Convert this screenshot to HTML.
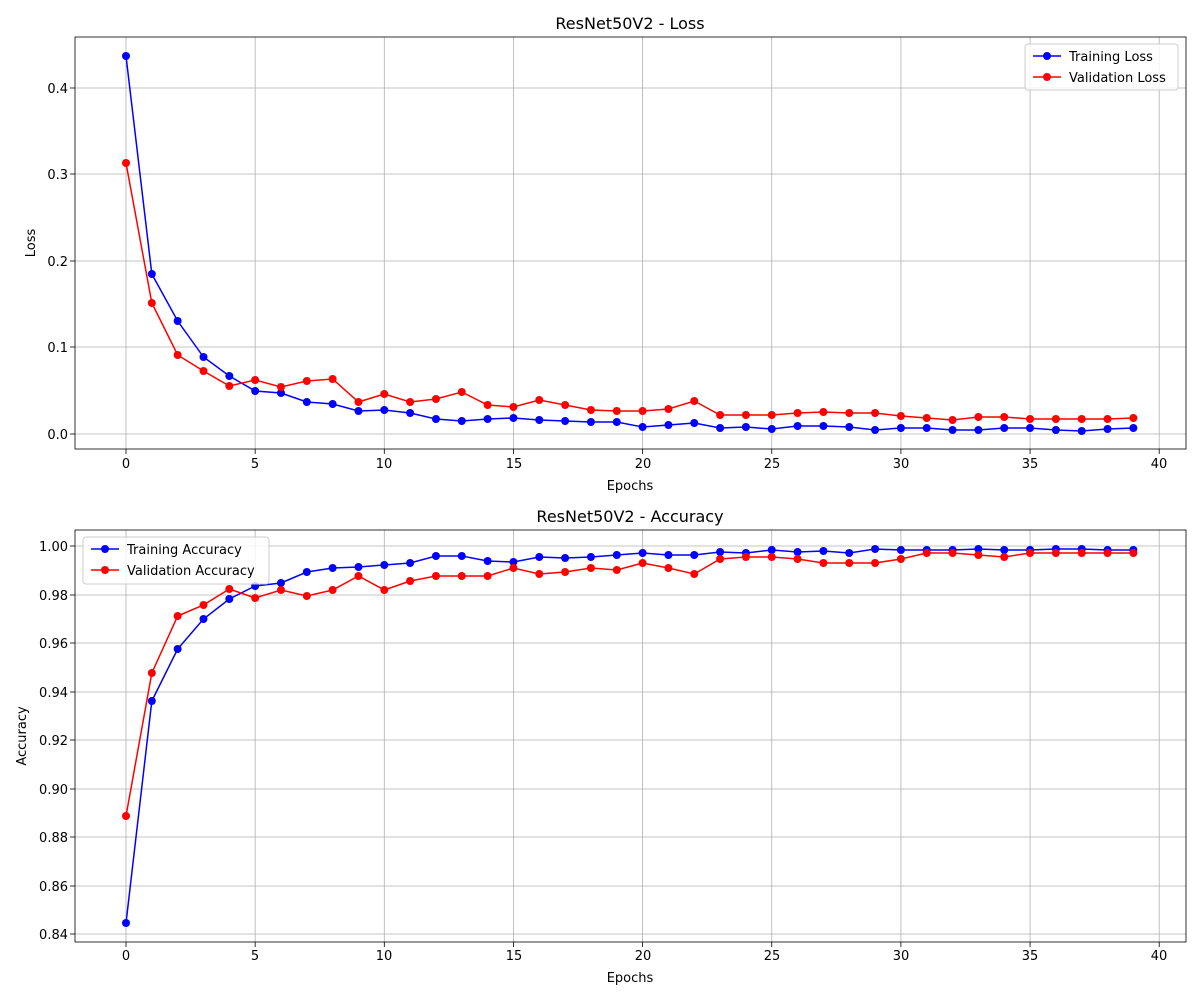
<!DOCTYPE html>
<html><head><meta charset="utf-8"><style>
body{margin:0;background:#fff}
svg text{font-family:"DejaVu Sans","Liberation Sans",sans-serif;font-size:13px;fill:#000}
</style></head><body>
<svg id="s" width="1200" height="1000" xmlns="http://www.w3.org/2000/svg">
<rect width="1200" height="1000" fill="#fff"/>
<g id="grid"></g>
<text x="630" y="29" text-anchor="middle" style="font-size:16px">ResNet50V2 - Loss</text>
<text x="630" y="490" text-anchor="middle">Epochs</text>
<text x="35" y="243" text-anchor="middle" transform="rotate(-90 35 243)">Loss</text>
<text x="68" y="439" text-anchor="end">0.0</text>
<text x="68" y="352" text-anchor="end">0.1</text>
<text x="68" y="266" text-anchor="end">0.2</text>
<text x="68" y="179" text-anchor="end">0.3</text>
<text x="68" y="93" text-anchor="end">0.4</text>
<text x="630" y="522" text-anchor="middle" style="font-size:16px">ResNet50V2 - Accuracy</text>
<text x="630" y="982" text-anchor="middle">Epochs</text>
<text x="26" y="736" text-anchor="middle" transform="rotate(-90 26 736)">Accuracy</text>
<text x="68" y="939" text-anchor="end">0.84</text>
<text x="68" y="891" text-anchor="end">0.86</text>
<text x="68" y="842" text-anchor="end">0.88</text>
<text x="68" y="794" text-anchor="end">0.90</text>
<text x="68" y="745" text-anchor="end">0.92</text>
<text x="68" y="697" text-anchor="end">0.94</text>
<text x="68" y="648" text-anchor="end">0.96</text>
<text x="68" y="600" text-anchor="end">0.98</text>
<text x="68" y="551" text-anchor="end">1.00</text>
<g id="xt">
<text x="126" y="468" text-anchor="middle">0</text><text x="255" y="468" text-anchor="middle">5</text><text x="384" y="468" text-anchor="middle">10</text><text x="514" y="468" text-anchor="middle">15</text><text x="643" y="468" text-anchor="middle">20</text><text x="772" y="468" text-anchor="middle">25</text><text x="901" y="468" text-anchor="middle">30</text><text x="1030" y="468" text-anchor="middle">35</text><text x="1159" y="468" text-anchor="middle">40</text>
<text x="126" y="960" text-anchor="middle">0</text><text x="255" y="960" text-anchor="middle">5</text><text x="384" y="960" text-anchor="middle">10</text><text x="514" y="960" text-anchor="middle">15</text><text x="643" y="960" text-anchor="middle">20</text><text x="772" y="960" text-anchor="middle">25</text><text x="901" y="960" text-anchor="middle">30</text><text x="1030" y="960" text-anchor="middle">35</text><text x="1159" y="960" text-anchor="middle">40</text>
</g>
<g id="data"></g>
<rect x="1025" y="44" width="153" height="46" rx="3" fill="#fff" fill-opacity="0.8" stroke="#ccc"/>
<line x1="1033" y1="56" x2="1061" y2="56" stroke="#00f" stroke-width="1.5"/><circle cx="1047" cy="56" r="4" fill="#00f"/>
<text x="1069" y="61">Training Loss</text>
<line x1="1033" y1="77" x2="1061" y2="77" stroke="#f00" stroke-width="1.5"/><circle cx="1047" cy="77" r="4" fill="#f00"/>
<text x="1069" y="82">Validation Loss</text>
<rect x="83" y="537" width="186" height="47" rx="3" fill="#fff" fill-opacity="0.8" stroke="#ccc"/>
<line x1="91" y1="549" x2="119" y2="549" stroke="#00f" stroke-width="1.5"/><circle cx="105" cy="549" r="4" fill="#00f"/>
<text x="127" y="554">Training Accuracy</text>
<line x1="91" y1="570" x2="119" y2="570" stroke="#f00" stroke-width="1.5"/><circle cx="105" cy="570" r="4" fill="#f00"/>
<text x="127" y="575">Validation Accuracy</text>
</svg>
<script>
var NS="http://www.w3.org/2000/svg";
function el(p,t,a){var e=document.createElementNS(NS,t);for(var k in a)e.setAttribute(k,a[k]);p.appendChild(e);return e;}
var g=document.getElementById('grid'),d=document.getElementById('data');
function X(i){return 126+25.83*i;}
function axes(top,bot,yt){
  for(var i=0;i<=40;i+=5){var x=X(i);el(g,'line',{x1:x,y1:top,x2:x,y2:bot,stroke:'#b0b0b0','stroke-width':0.8});el(g,'line',{x1:x,y1:bot,x2:x,y2:bot+5,stroke:'#000','stroke-width':0.8});}
  yt.forEach(function(y){el(g,'line',{x1:75,y1:y,x2:1186,y2:y,stroke:'#b0b0b0','stroke-width':0.8});el(g,'line',{x1:70,y1:y,x2:75,y2:y,stroke:'#000','stroke-width':0.8});});
  el(g,'rect',{x:75,y:top,width:1111,height:bot-top,fill:'none',stroke:'#000','stroke-width':0.8});
}
axes(37,449,[434,347,261,174,88]);
axes(530,942,[934,886,837,789,740,692,643,595,546]);
function series(ys,c){
  var pts=ys.map(function(y,i){return X(i)+','+y;}).join(' ');
  el(d,'polyline',{points:pts,fill:'none',stroke:c,'stroke-width':1.5});
  ys.forEach(function(y,i){el(d,'circle',{cx:X(i),cy:y,r:4,fill:c});});
}
series([56,274,321,357,376,391,393,402,404,411,410,413,419,421,419,418,420,421,422,422,427,425,423,428,427,429,426,426,427,430,428,428,430,430,428,428,430,431,429,428],'#00f');
series([163,303,355,371,386,380,387,381,379,402,394,402,399,392,405,407,400,405,410,411,411,409,401,415,415,415,413,412,413,413,416,418,420,417,417,419,419,419,419,418],'#f00');
series([923,701,649,619,599,586,583,572,568,567,565,563,556,556,561,562,557,558,557,555,553,555,555,552,553,550,552,551,553,549,550,550,550,549,550,550,549,549,550,550],'#00f');
series([816,673,616,605,589,598,590,596,590,576,590,581,576,576,576,568,574,572,568,570,563,568,574,559,557,557,559,563,563,563,559,553,553,555,557,553,553,553,553,553],'#f00');
</script>
</body></html>
